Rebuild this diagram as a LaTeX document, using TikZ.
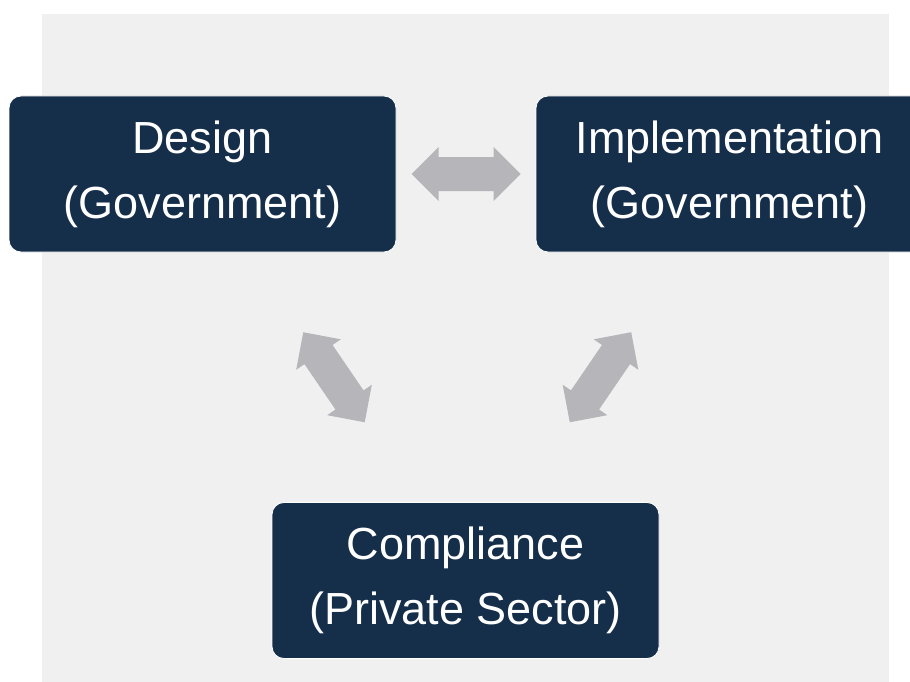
\documentclass[tikz,border=0pt]{standalone}
\usepackage{fontspec}
\setmainfont{Liberation Sans}
\usetikzlibrary{calc}
\definecolor{navy}{RGB}{21,46,73}
\definecolor{bggray}{RGB}{240,240,240}
\definecolor{arrowgray}{RGB}{181,181,186}
\tikzset{
  box/.style={fill=navy, draw=white, line width=0.8pt, rounded corners=12pt,
    minimum width=387pt, minimum height=156pt, inner sep=0pt,
    text=white, align=center, font=\fontsize{45}{65}\selectfont},
  biarrow/.pic={
    \fill[arrowgray] (-54.5,0) -- (-27.5,27) -- (-27.5,17) -- (27.5,17) -- (27.5,27)
      -- (54.5,0) -- (27.5,-27) -- (27.5,-17) -- (-27.5,-17) -- (-27.5,-27) -- cycle;
  }
}
\begin{document}
\begin{tikzpicture}[x=1pt,y=-1pt]
\useasboundingbox (0,0) rectangle (910,682);
\fill[bggray] (42,14) rectangle (889,682);
\node[box] (d) at (202.5,174) {Design\\(Government)};
\node[box] (i) at (729.5,174) {Implementation\\(Government)};
\node[box] (c) at (465.5,580.5) {Compliance\\(Private Sector)};
\coordinate (m1) at ($(d.east)!0.5!(i.west)$);
\coordinate (m2) at ($(d.south)!0.5!(c.north)$);
\coordinate (m3) at ($(i.south)!0.5!(c.north)+(3,0)$);
\pic at (m1) {biarrow};
\pic[rotate=-55.7] at (m2) {biarrow};
\pic[rotate=55.7] at (m3) {biarrow};
\end{tikzpicture}
\end{document}
